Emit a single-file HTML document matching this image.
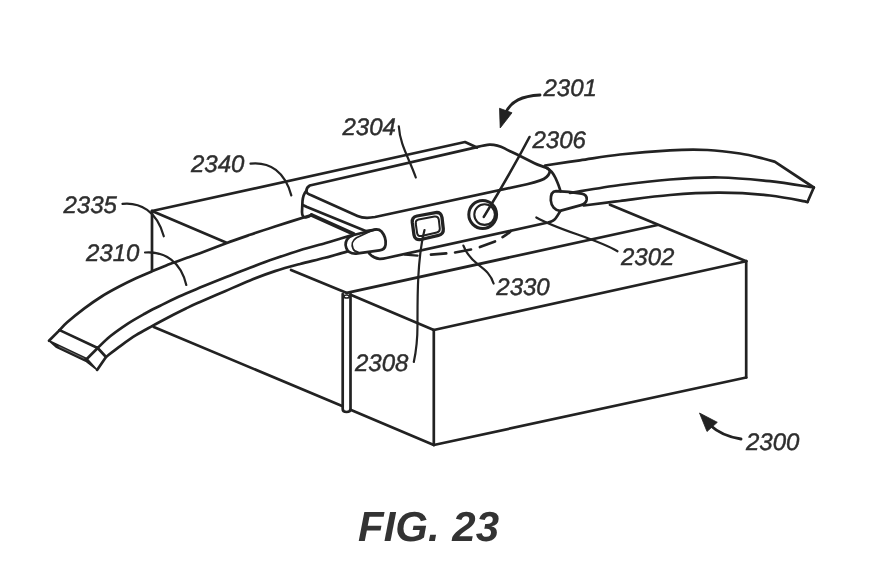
<!DOCTYPE html>
<html><head><meta charset="utf-8"><title>FIG. 23</title>
<style>
html,body{margin:0;padding:0;background:#fff;}
body{width:872px;height:581px;overflow:hidden;}
svg{display:block;will-change:transform;filter:grayscale(1);}
.ln path,.ln circle,.ln ellipse{fill:none;stroke:#222;stroke-linecap:round;stroke-linejoin:round;}
text{text-rendering:geometricPrecision;}
.lb text{font-family:"Liberation Sans",sans-serif;font-style:italic;font-size:24px;fill:#2e2e2e;stroke:#2e2e2e;stroke-width:0.45px;}
.fig{font-family:"Liberation Sans",sans-serif;font-style:italic;font-weight:bold;font-size:42px;fill:#333;}
</style></head><body>
<svg width="872" height="581" viewBox="0 0 872 581">
<rect width="872" height="581" fill="#fff"/>
<g class="ln">
<path d="M152.0,211.0 L465.0,142.0 L477.0,147.5" stroke-width="2.70" />
<path d="M152.0,211.0 L152.0,271.0" stroke-width="2.70" />
<path d="M152.0,211.0 L226.0,242.5" stroke-width="2.70" />
<path d="M291.0,270.0 L346.9,292.9" stroke-width="2.70" />
<path d="M350.6,294.7 L433.8,330.0" stroke-width="2.70" />
<path d="M433.8,330.0 L433.8,445.0" stroke-width="2.70" />
<path d="M433.8,330.0 L746.2,261.2" stroke-width="2.70" />
<path d="M746.2,261.2 L746.2,377.5" stroke-width="2.70" />
<path d="M433.8,445.0 L746.2,377.5" stroke-width="2.70" />
<path d="M610.0,204.7 L746.2,261.2" stroke-width="2.70" />
<path d="M346.9,292.9 L657.5,225.0" stroke-width="2.70" />
<path d="M153.8,327.0 L342.7,406.3" stroke-width="2.70" />
<path d="M350.5,409.7 L433.8,445.0" stroke-width="2.70" />
<path d="M342.7,294.0 L342.7,409.0 Q342.7,412 346.6,412 Q350.5,412 350.5,409 L350.5,294" stroke-width="2.70" />
<ellipse cx="346.6" cy="296.5" rx="2.7" ry="1.5" stroke-width="1.7"/>
<path d="M59.6,330.1 C60.9,328.8 63.1,325.9 67.2,322.3 C71.3,318.7 78.7,312.7 84.4,308.4 C90.1,304.1 95.9,300.1 101.6,296.5 C107.3,292.9 113.1,289.8 118.8,286.8 C124.5,283.8 130.2,281.0 136.0,278.3 C141.8,275.6 147.6,273.2 153.3,270.8 C159.1,268.4 164.8,265.9 170.5,263.7 C176.2,261.5 182.8,259.4 187.7,257.6 C192.6,255.9 193.6,255.6 200.0,253.2 C206.4,250.8 217.9,246.3 226.2,243.2 C234.6,240.1 241.9,237.6 250.0,234.8 C258.1,232.0 264.8,229.8 275.0,226.5 C285.2,223.2 305.4,216.9 311.5,215.0" stroke-width="2.70" />
<path d="M97.7,348.0 C99.8,346.0 105.2,340.2 110.2,336.2 C115.2,332.2 121.8,327.6 127.5,323.8 C133.2,320.1 139.0,316.9 144.7,313.7 C150.4,310.5 156.2,307.8 161.9,304.9 C167.6,302.0 172.8,299.4 179.1,296.5 C185.4,293.6 192.3,290.8 200.0,287.6 C207.7,284.4 216.7,280.8 225.0,277.5 C233.3,274.2 241.7,270.8 250.0,267.7 C258.3,264.6 266.7,261.5 275.0,258.6 C283.3,255.7 291.7,252.8 300.0,250.2 C308.3,247.6 318.3,245.2 325.0,243.3 C331.7,241.4 335.8,240.1 340.0,238.8 C344.2,237.5 348.8,236.1 350.5,235.6" stroke-width="2.70" />
<path d="M106.0,357.0 C108.1,355.4 113.8,350.7 118.8,347.1 C123.8,343.5 130.2,338.8 136.0,335.2 C141.8,331.6 147.6,328.6 153.3,325.4 C159.1,322.2 164.8,319.2 170.5,316.2 C176.2,313.2 182.8,310.0 187.7,307.6 C192.6,305.2 193.8,304.7 200.0,302.0 C206.2,299.3 216.7,294.8 225.0,291.2 C233.3,287.6 241.7,283.8 250.0,280.4 C258.3,277.0 266.7,273.8 275.0,271.1 C283.3,268.4 291.7,266.2 300.0,264.0 C308.3,261.8 317.2,259.9 325.0,257.8 C332.8,255.7 343.3,252.6 347.0,251.6" stroke-width="2.70" />
<path d="M59.6,330.1 L97.7,348.0" stroke-width="2.70" />
<path d="M59.6,330.1 L49.0,340.8" stroke-width="2.70" />
<path d="M97.7,348.0 L87.0,358.7" stroke-width="2.70" />
<path d="M97.7,348.0 L106.0,357.0 L97.1,369.9" stroke-width="2.70" />
<polygon points="49,340.8 87,358.7 97.1,369.9 86.5,361.6 56.5,347.4" fill="#222" stroke="#222" stroke-width="1.5" stroke-linejoin="round"/>
<path d="M59,346.6 L84,358.4" stroke="#8a8a8a" stroke-width="0.7" style="stroke:#8a8a8a"/>
<path d="M309.8,185.5 L474.8,147.6 C480,146.3 485,144.8 489.7,144.6 C495,144.5 500,146 504.6,148.4 C509,150.8 512,152 516.6,154.3 L534.5,163.3 C539,165.5 543,166.3 546.4,167.8 C549,169 550.2,170.5 549.6,172.5 C548.5,176 546,178.5 540.4,180.4 C536,182 531,183.3 527,184.2 L375,217 C368,218.3 362,218 357.5,216 L312.4,195.8 C308,194 306.5,193.5 306.4,190.6 C306.6,188 308,186.5 309.8,185.5 Z" stroke-width="2.70" />
<path d="M306.4,190.6 C303.5,194 302.9,197 302.5,201 L302,212 C302,216 303.5,217.6 306,217.3 C308.5,217 310,216.2 311.5,215" stroke-width="2.70" />
<path d="M303.3,205.2 L307.0,207.0 L365.7,231.1 L376.0,229.5" stroke-width="2.70" />
<path d="M311.5,215.0 L353.7,234.0" stroke-width="3.80" />
<path d="M353.7,235 L372.6,230.2 C376,229 379,229 381.5,231.5 C384.5,235 386,240 385.6,244.5 C385.2,248 383,250 379.5,250.4 L356,253.6 C351,253.8 347.5,251.5 346.3,248 C345,244.5 345.3,240.5 349.4,237 Z" stroke-width="2.70" />
<path d="M372.6,230.2 L356.5,237.8 C352,240.5 351.5,245 353,248.5 C354,251 356,252 358,252.2" stroke-width="1.80" />
<path d="M369.2,253.3 C372,256.5 375.5,258.6 379.5,258.8 C382,258.9 384,258.6 386.4,258 L548,222.5 C552,221.5 554,220.5 555.5,218.5 C557.5,216 558.5,214 560,211.5" stroke-width="2.70" />
<path d="M546.4,167.8 C550,169.5 553,173 555.5,178 C558,183.5 559.5,187 560.5,191.5" stroke-width="2.70" />
<path d="M556,191.2 C564,191.4 574,192.4 581.5,193.6 C585.5,194.4 587,196.5 586.7,199.5 C586.3,202.5 584.5,204.2 581,205.1 L560,210.9 C555,210.5 551.2,206 550.8,200.5 C550.6,195 552,191.4 556,191.2 Z" stroke-width="2.70" />
<path d="M417,216 L435.5,212.6 C439.5,212 441.5,214 442,217.5 L443.3,229 C443.6,232.8 442,234.5 438.5,235.3 L421,239.5 C417,240.3 414.6,238.8 414,235 L412.3,222.5 C411.9,218.8 413.3,216.7 417,216 Z" stroke-width="3.30" />
<path d="M418.5,219.5 L434.5,216.5 C437.3,216.1 438.4,217.2 438.8,219.7 L439.8,228.6 C440,231 439,232 436.8,232.5 L421.6,236 C419,236.5 417.5,235.4 417.1,233 L415.8,224 C415.5,221.5 416.3,220 418.5,219.5 Z" stroke-width="2.00" />
<circle cx="482.7" cy="214.5" r="13.9" stroke-width="3.0"/>
<circle cx="484.6" cy="214.6" r="10.3" stroke-width="2.1"/>
<path d="M405.0,254.6 L417.5,255.6" stroke-width="2.40" />
<path d="M431.0,254.6 L446.2,253.4" stroke-width="2.70" />
<path d="M455.1,252.5 L471.0,249.5" stroke-width="2.70" />
<path d="M479.9,247 L495,241.5" stroke-width="2.70" />
<path d="M502.6,237.1 Q507.5,234.3 510.8,231" stroke-width="2.70" />
<path d="M545.0,165.5 C550.8,164.6 567.5,162.1 580.0,160.3 C592.5,158.5 605.0,156.2 620.0,154.5 C635.0,152.8 655.4,151.1 670.0,150.3 C684.6,149.6 695.8,149.5 707.5,150.0 C719.2,150.5 730.8,152.1 740.0,153.5 C749.2,154.9 757.2,157.1 763.0,158.5 C768.8,159.9 773.0,161.2 775.0,161.8 L813.75,187.5" stroke-width="2.70" />
<path d="M570.0,193.0 C578.3,191.7 603.3,187.2 620.0,185.0 C636.7,182.8 653.3,180.8 670.0,179.5 C686.7,178.2 703.3,177.2 720.0,177.5 C736.7,177.8 754.4,179.6 770.0,181.2 C785.6,182.9 806.5,186.5 813.8,187.5" stroke-width="2.70" />
<path d="M583.8,205.5 C589.8,204.8 605.6,202.8 620.0,201.0 C634.4,199.2 653.3,196.4 670.0,195.0 C686.7,193.6 703.3,192.6 720.0,192.7 C736.7,192.8 755.4,193.9 770.0,195.5 C784.6,197.1 801.2,200.9 807.5,202.0" stroke-width="2.70" />
<path d="M813.8,187.5 L807.5,202.0" stroke-width="2.70" />
<path d="M122.5,203.8 C140,202 157,211 163.8,236.3" stroke-width="2.20" />
<path d="M145,252.5 C165,251 181,262 186.3,285" stroke-width="2.20" />
<path d="M250.5,163.6 C270,161.5 285,172 291.3,195.4" stroke-width="2.20" />
<path d="M398.8,126.3 C400,145 409,158 415.8,177.5" stroke-width="2.20" />
<path d="M529.5,137 Q509,176 483.8,216.9" stroke-width="2.60" />
<path d="M424.5,230 C417,260 417.5,300 417.5,325 C417.5,340 416,352 413.8,362" stroke-width="2.20" />
<path d="M463.4,245.6 C466,253 471,259 478.5,264.9 C486,270.5 491,275 493.6,283.5" stroke-width="2.20" />
<path d="M536.3,217.5 C560,231 595,238 617.5,251.3" stroke-width="2.20" />
<path d="M540,95 C522,96 511,101 505.5,113" stroke-width="2.90" />
<polygon points="499.5,108.3 512,112.8 500.2,128" fill="#222" stroke="#222" stroke-width="0.8"/>
<path d="M741,439 C728,437 718,432.5 710.5,425.5" stroke-width="2.90" />
<polygon points="699.5,413 717.3,422.3 707,431.5" fill="#222" stroke="#222" stroke-width="0.8"/>
</g>
<g class="lb">
<text x="63.5" y="212.5">2335</text>
<text x="86.0" y="261.0">2310</text>
<text x="191.0" y="172.0">2340</text>
<text x="342.5" y="134.5">2304</text>
<text x="543.5" y="95.5">2301</text>
<text x="532.5" y="147.5">2306</text>
<text x="621.0" y="264.8">2302</text>
<text x="496.3" y="294.5">2330</text>
<text x="355.0" y="371.3">2308</text>
<text x="746.0" y="449.5">2300</text>
</g>
<text class="fig" x="358" y="541.3">FIG.</text>
<text class="fig" x="452.3" y="541.3">23</text>
</svg>
</body></html>
